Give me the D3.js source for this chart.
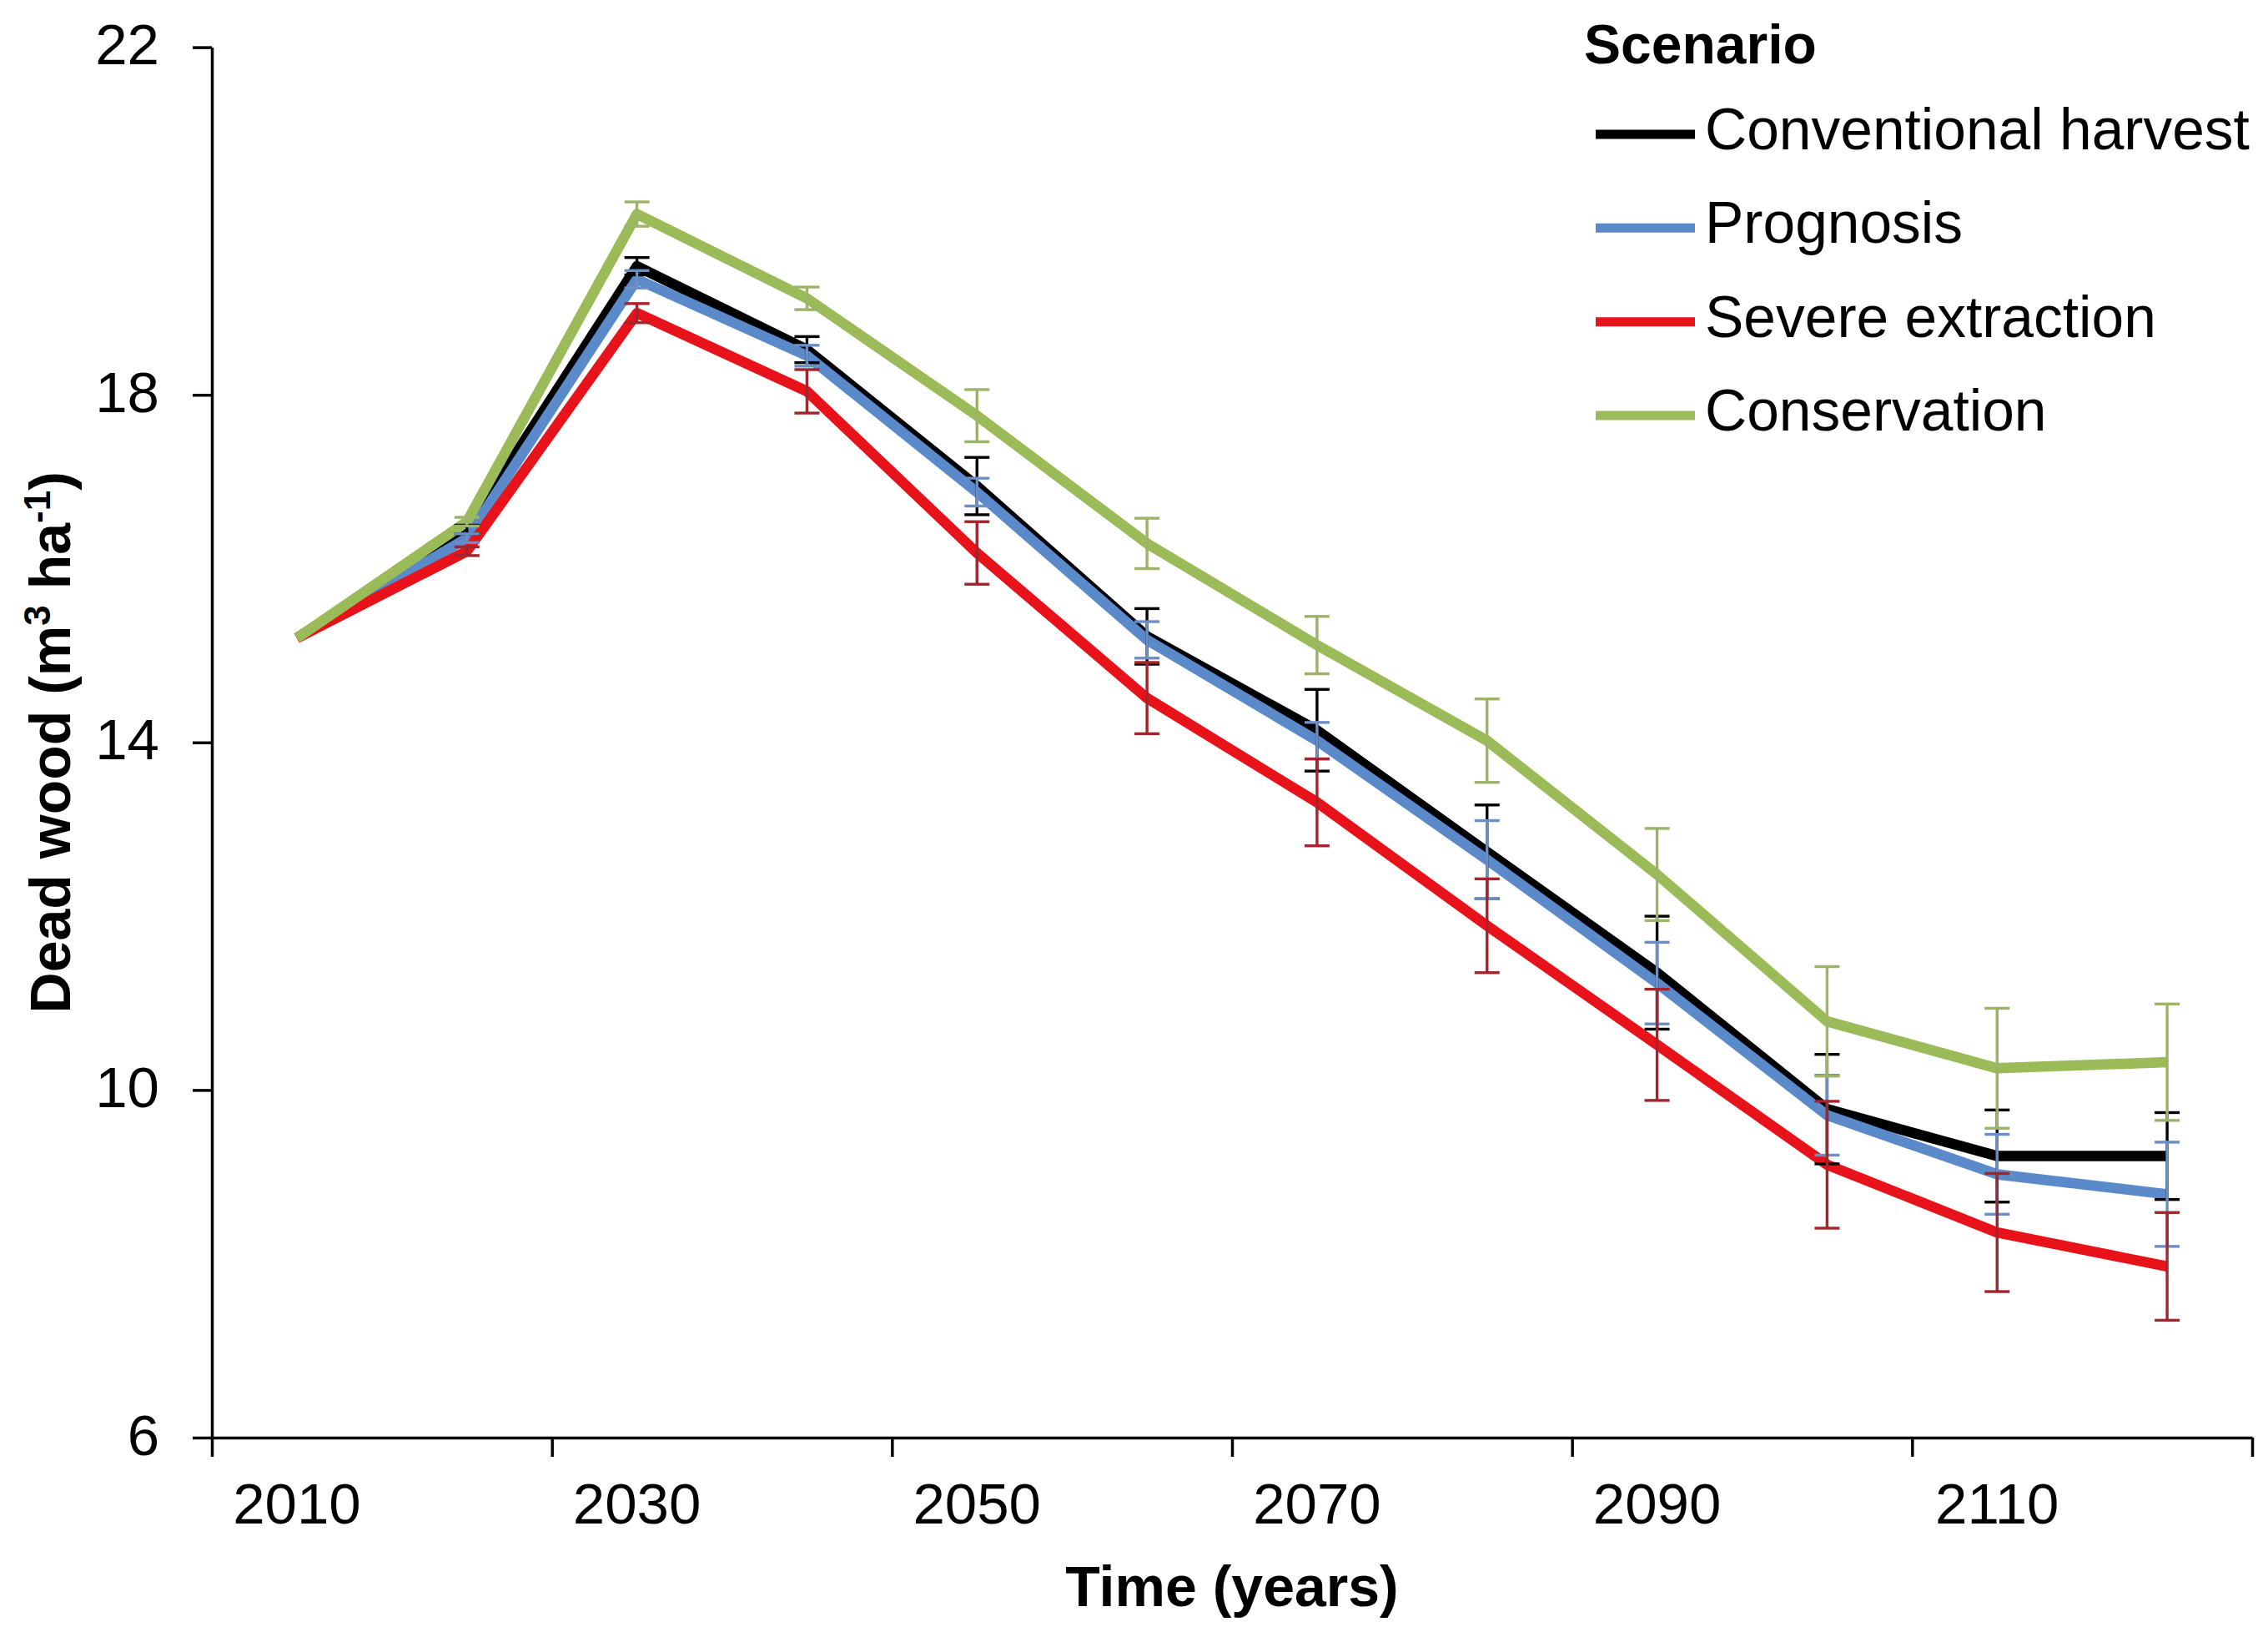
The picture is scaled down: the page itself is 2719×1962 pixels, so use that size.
<!DOCTYPE html>
<html>
<head>
<meta charset="utf-8">
<script src="https://cdn.jsdelivr.net/npm/d3@7"></script>
<style>
  html, body { margin: 0; padding: 0; background: #ffffff; }
  svg { display: block; }
  text { font-family: "Liberation Sans", Arial, sans-serif; fill: #000; }
</style>
</head>
<body>
<svg id="chart" width="2719" height="1962"></svg>
<script>
// ---- data ----
const years = [2010, 2020, 2030, 2040, 2050, 2060, 2070, 2080, 2090, 2100, 2110, 2120];
const labelYears = [2010, 2030, 2050, 2070, 2090, 2110];
const yTicks = [6, 10, 14, 18, 22];
const seriesNames = ["Conventional harvest", "Prognosis", "Severe extraction", "Conservation"];

const conventional = [15.2, 16.45, 19.48, 18.52, 16.95, 15.22, 14.14, 12.74, 11.35, 9.78, 9.24, 9.24];
const prognosis    = [15.2, 16.35, 19.33, 18.45, 16.88, 15.18, 14.02, 12.65, 11.23, 9.71, 9.03, 8.80];
const severe       = [15.2, 16.20, 18.94, 18.04, 16.18, 14.51, 13.31, 11.89, 10.52, 9.14, 8.36, 7.97];
const conservation = [15.2, 16.54, 20.08, 19.11, 17.76, 16.29, 15.12, 14.02, 12.48, 10.79, 10.25, 10.32];

const conventionalErr = [0, 0.05, 0.10, 0.15, 0.33, 0.32, 0.47, 0.54, 0.65, 0.63, 0.53, 0.50];
const prognosisErr    = [0, 0.05, 0.10, 0.12, 0.16, 0.21, 0.21, 0.45, 0.47, 0.46, 0.46, 0.60];
const severeErr       = [0, 0.05, 0.11, 0.25, 0.36, 0.41, 0.50, 0.54, 0.64, 0.73, 0.68, 0.62];
const conservationErr = [0, 0.05, 0.14, 0.13, 0.30, 0.29, 0.33, 0.48, 0.53, 0.63, 0.69, 0.67];

const lineColors = ["#000000", "#5B8ACB", "#E8121A", "#9BBB59"];
const errColors  = ["#000000", "#6B8FC4", "#A3242C", "#9CB36A"];

const series = [
  { name: seriesNames[0], values: conventional, err: conventionalErr, color: lineColors[0], ecolor: errColors[0] },
  { name: seriesNames[1], values: prognosis, err: prognosisErr, color: lineColors[1], ecolor: errColors[1] },
  { name: seriesNames[2], values: severe, err: severeErr, color: lineColors[2], ecolor: errColors[2] },
  { name: seriesNames[3], values: conservation, err: conservationErr, color: lineColors[3], ecolor: errColors[3] }
];

// ---- layout ----
const svg = d3.select("#chart");
const plotLeft = 254, plotRight = 2700, plotTop = 56.6, plotBottom = 1723;

const x = d3.scaleBand().domain(years).range([plotLeft, plotRight]).padding(0);
const xEdge = d3.scaleLinear().domain([0, years.length]).range([plotLeft, plotRight]);
const y = d3.scaleLinear().domain([6, 22]).range([plotBottom, plotTop]);
const cx = d => x(d) + x.bandwidth() / 2;

// ---- axes ----
const yAxis = svg.append("g")
  .attr("transform", `translate(${plotLeft},0)`)
  .call(d3.axisLeft(y).tickValues(yTicks).tickSize(23).tickSizeOuter(0).tickPadding(40).tickFormat(d3.format("d")));
yAxis.selectAll("text").attr("font-size", 69).attr("dy", "0.29em")
  .style("font-family", '"Liberation Sans", Arial, sans-serif');

const xAxisTicks = svg.append("g")
  .attr("transform", `translate(0,${plotBottom})`)
  .call(d3.axisBottom(xEdge).tickValues(d3.range(0, years.length + 1, 2)).tickSize(23).tickSizeOuter(0).tickFormat(""));

const xAxisLabels = svg.append("g")
  .attr("transform", `translate(0,${plotBottom})`)
  .call(d3.axisBottom(x).tickValues(labelYears).tickSize(0).tickPadding(54).tickFormat(d3.format("d")));
xAxisLabels.select(".domain").remove();
xAxisLabels.selectAll("text").attr("font-size", 69)
  .style("font-family", '"Liberation Sans", Arial, sans-serif');

[yAxis, xAxisTicks].forEach(g => {
  g.selectAll(".domain").attr("stroke", "#000").attr("stroke-width", 3.5);
  g.selectAll(".tick line").attr("stroke", "#000").attr("stroke-width", 3.5);
});

// ---- lines ----
const line = d3.line().x((d, i) => cx(years[i])).y(d => y(d));
series.forEach(s => {
  svg.append("path")
    .datum(s.values)
    .attr("fill", "none")
    .attr("stroke", s.color)
    .attr("stroke-width", 12.5)
    .attr("stroke-linejoin", "round")
    .attr("d", line);
});

// ---- error bars ----
const cap = 15;
series.forEach(s => {
  const g = svg.append("g").attr("stroke", s.ecolor).attr("stroke-width", 3.4);
  s.values.forEach((v, i) => {
    const e = s.err[i];
    if (!e) return;
    const xc = cx(years[i]);
    g.append("line").attr("x1", xc).attr("x2", xc).attr("y1", y(v - e)).attr("y2", y(v + e));
    g.append("line").attr("x1", xc - cap).attr("x2", xc + cap).attr("y1", y(v + e)).attr("y2", y(v + e));
    g.append("line").attr("x1", xc - cap).attr("x2", xc + cap).attr("y1", y(v - e)).attr("y2", y(v - e));
  });
});

// ---- axis titles ----
svg.append("text")
  .attr("x", (plotLeft + plotRight) / 2).attr("y", 1925)
  .attr("text-anchor", "middle")
  .attr("font-size", 68).attr("font-weight", "bold")
  .text("Time (years)");

const yt = svg.append("text")
  .attr("transform", `translate(84,${(plotTop + plotBottom) / 2}) rotate(-90)`)
  .attr("text-anchor", "middle")
  .attr("font-size", 68).attr("font-weight", "bold");
yt.append("tspan").text("Dead wood (m");
yt.append("tspan").attr("font-size", 44).attr("dy", -24).text("3");
yt.append("tspan").attr("dy", 24).text(" ha");
yt.append("tspan").attr("font-size", 44).attr("dy", -24).text("-1");
yt.append("tspan").attr("dy", 24).text(")");

// ---- legend ----
const legend = svg.append("g");
legend.append("text")
  .attr("x", 1899).attr("y", 76)
  .attr("font-size", 66).attr("font-weight", "bold")
  .text("Scenario");
const legY = d3.scaleLinear().domain([0, 3]).range([161, 498]);
series.forEach((s, i) => {
  legend.append("line")
    .attr("x1", 1913).attr("x2", 2032)
    .attr("y1", legY(i)).attr("y2", legY(i))
    .attr("stroke", s.color).attr("stroke-width", 11);
  legend.append("text")
    .attr("x", 2044).attr("y", legY(i) + 18)
    .attr("font-size", 69.5)
    .text(s.name);
});
</script>
</body>
</html>
